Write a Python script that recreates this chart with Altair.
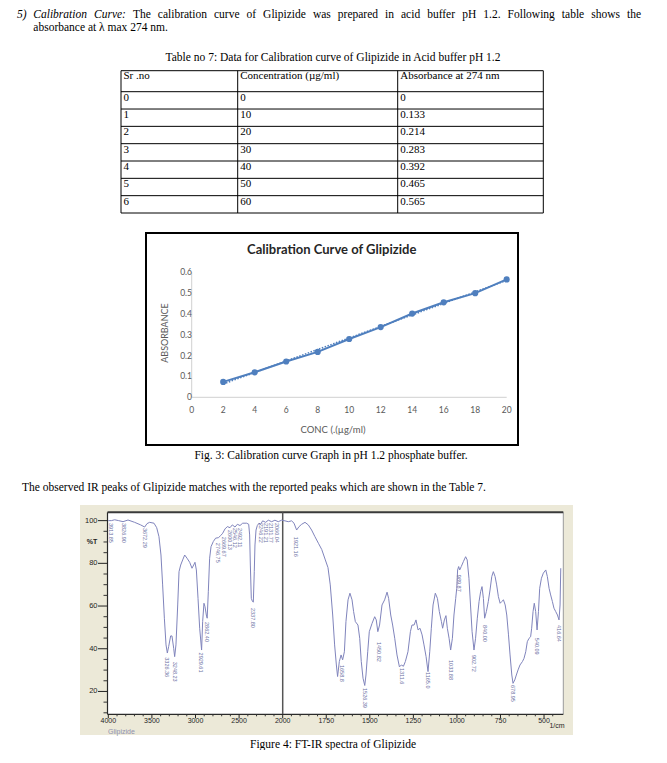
import altair as alt
import pandas as pd

# ======================= DATA =======================
# Fig. 3 : calibration curve
conc = [2, 4, 6, 8, 10, 12, 14, 16, 18, 20]
absorbance = [0.074, 0.120, 0.172, 0.218, 0.280, 0.337, 0.402, 0.456, 0.500, 0.566]
cal_x_ticks = [0, 2, 4, 6, 8, 10, 12, 14, 16, 18, 20]
cal_y_ticks = [0.0, 0.1, 0.2, 0.3, 0.4, 0.5, 0.6]
cal_y_labels = ["0", "0.1", "0.2", "0.3", "0.4", "0.5", "0.6"]

# Table no 7
table_header = ["Sr .no", "Concentration  (µg/ml)", "Absorbance at 274 nm"]
sr_no = ["0", "1", "2", "3", "4", "5", "6"]
table_conc = ["0", "10", "20", "30", "40", "50", "60"]
table_abs = ["0", "0.133", "0.214", "0.283", "0.392", "0.465", "0.565"]

# Fig. 4 : FT-IR spectrum (wavenumber 1/cm, %T)
ir_wavenumber = [4000, 3965, 3927, 3881, 3831, 3774, 3698, 3629, 3583, 3556,
                 3526, 3476, 3445, 3419, 3396, 3377, 3357, 3338, 3323, 3308,
                 3285, 3270, 3250, 3239, 3224, 3204, 3189, 3170, 3147, 3124,
                 3097, 3067, 3040, 3021, 3006, 2990, 2971, 2952, 2930, 2918,
                 2903, 2891, 2876, 2866, 2853, 2838, 2822, 2796, 2769, 2738,
                 2711, 2688, 2662, 2635, 2604, 2578, 2547, 2520, 2490, 2459,
                 2413, 2390, 2379, 2371, 2360, 2348, 2337, 2326, 2318, 2306,
                 2291, 2272, 2253, 2230, 2195, 2165, 2127, 2089, 2051, 2013,
                 1987, 1968, 1949, 1935, 1920, 1906, 1891, 1872, 1853, 1834,
                 1815, 1795, 1776, 1757, 1740, 1727, 1713, 1702, 1692, 1685,
                 1675, 1665, 1656, 1646, 1637, 1625, 1614, 1602, 1593, 1583,
                 1568, 1558, 1549, 1539, 1529, 1522, 1512, 1503, 1487, 1472,
                 1463, 1454, 1444, 1430, 1415, 1401, 1392, 1380, 1369, 1357,
                 1344, 1330, 1319, 1307, 1296, 1281, 1267, 1258, 1246, 1235,
                 1223, 1212, 1200, 1189, 1177, 1166, 1156, 1147, 1137, 1124,
                 1112, 1101, 1089, 1082, 1072, 1063, 1055, 1045, 1036, 1026,
                 1017, 1007, 1001, 996, 990, 984, 975, 963, 950, 941,
                 931, 922, 913, 902, 893, 883, 873, 864, 856, 848,
                 841, 831, 820, 810, 800, 791, 781, 772, 762, 752,
                 743, 733, 723, 714, 704, 695, 685, 678, 668, 659,
                 649, 638, 624, 615, 605, 596, 586, 577, 571, 563,
                 556, 548, 540, 532, 525, 515, 504, 490, 481, 471,
                 462, 452, 443, 433, 423, 414, 408, 404]
ir_transmittance = [100.0, 100.0, 100.4, 100.0, 99.5, 100.3, 99.2, 98.0, 97.0, 98.6,
                    99.2, 98.8, 96.7, 92.5, 83.9, 69.9, 54.3, 41.8, 38.0, 41.0,
                    46.0, 46.0, 40.2, 36.3, 41.8, 60.5, 76.1, 79.2, 81.6, 83.9,
                    82.4, 80.5, 77.7, 79.2, 80.5, 76.9, 63.6, 49.6, 39.4, 52.7,
                    61.3, 59.7, 55.8, 54.3, 66.7, 82.4, 87.8, 90.2, 91.8, 92.0,
                    93.0, 94.1, 96.1, 97.2, 96.7, 98.0, 97.0, 98.3, 97.7, 98.8,
                    98.8, 98.3, 93.3, 79.2, 63.6, 62.3, 61.8, 76.1, 88.6, 95.6,
                    97.7, 98.8, 98.3, 99.9, 99.2, 100.2, 99.5, 100.2, 99.5, 100.2,
                    99.9, 99.5, 99.9, 98.8, 95.6, 97.2, 98.3, 99.2, 98.0, 95.6,
                    92.5, 89.4, 86.5, 82.0, 78.0, 69.9, 55.8, 41.8, 32.4, 27.0,
                    34.0, 37.1, 34.8, 38.6, 52.7, 62.9, 66.0, 62.9, 57.4, 52.7,
                    51.1, 44.9, 34.0, 26.2, 22.8, 27.7, 38.6, 48.0, 51.9, 55.0,
                    53.5, 48.0, 51.1, 60.5, 62.9, 66.5, 63.6, 55.8, 51.1, 44.9,
                    37.1, 31.5, 32.4, 31.8, 34.0, 38.6, 48.0, 51.1, 51.1, 53.5,
                    48.8, 49.6, 46.5, 41.8, 36.3, 29.3, 38.6, 49.6, 60.5, 66.0,
                    63.6, 57.4, 52.7, 49.6, 53.5, 55.5, 49.6, 44.9, 39.4, 44.9,
                    55.8, 63.6, 68.3, 76.9, 78.5, 76.9, 78.5, 80.8, 83.1, 81.6,
                    73.0, 60.5, 48.0, 39.4, 44.9, 54.3, 62.1, 66.7, 69.1, 63.6,
                    54.3, 57.4, 62.1, 67.5, 73.8, 76.1, 73.8, 69.9, 64.4, 61.3,
                    62.1, 62.9, 60.5, 55.8, 46.5, 37.1, 27.7, 23.8, 25.4, 27.7,
                    30.1, 32.4, 34.0, 35.5, 38.6, 43.3, 44.9, 45.6, 49.6, 57.4,
                    61.3, 57.4, 48.8, 57.4, 68.3, 73.0, 75.4, 76.9, 73.8, 68.3,
                    65.2, 62.1, 59.0, 57.4, 55.8, 53.5, 60.5, 77.7]
peak_wavenumber = [3968, 3822, 3575, 3322, 3240, 2932, 2864, 2747, 2670, 2600,
                   2546, 2492, 2338, 2246, 2191, 2132, 2062, 1921, 1660, 1527,
                   1450, 1313, 1165, 1035, 988, 902, 840, 679, 540, 416]
peak_text = ["3913.85", "3826.90", "3672.29", "3326.36", "3248.23", "2929.61", "2862.40",
             "2746.75", "2669.67", "2600.13", "2546.12", "2492.11", "2337.80", "2246.22",
             "2191.21", "2131.77", "2060.04", "1921.16", "1658.8", "1526.39", "1450.82",
             "1311.6", "1165.0", "1033.88", "989.87", "902.72", "840.00", "678.95",
             "540.09", "416.64"]
peak_label_top = [98.9, 98.9, 96.6, 36.0, 33.9, 38.2, 52.5, 89.6, 92.4, 95.6,
                  96.6, 96.6, 59.1, 98.9, 98.9, 98.9, 98.9, 92.4, 32.4, 21.6,
                  43.2, 31.0, 29.1, 34.7, 74.6, 37.1, 51.1, 23.0, 45.1, 51.1]
ir_x_major = [4000, 3500, 3000, 2500, 2000, 1750, 1500, 1250, 1000, 750, 500]
ir_y_major = [20, 40, 60, 80, 100]

# ======================= LAYOUT =======================
P = 8.0  # page margin: reference pixel -> chart pixel
SERIF = "Liberation Serif"
SANS = "Liberation Sans"
CAL_FONT = "Lato"
BODY = 11.5

def V(v):
    return round(v - P, 2)

def page_text(rows, **mk):
    df = pd.DataFrame(rows, columns=["x", "y", "t"])
    df["x"] = df["x"] - P
    df["y"] = df["y"] - P
    return alt.Chart(df).mark_text(**mk).encode(
        x=alt.X("x:Q", scale=None, axis=None),
        y=alt.Y("y:Q", scale=None, axis=None),
        text=alt.Text("t:N"))

def page_seg(rows, kind="rule", **mk):
    df = pd.DataFrame(rows, columns=["x", "y", "x2", "y2"]) - P
    ch = alt.Chart(df)
    ch = ch.mark_rule(**mk) if kind == "rule" else ch.mark_rect(**mk)
    return ch.encode(
        x=alt.X("x:Q", scale=None, axis=None), y=alt.Y("y:Q", scale=None, axis=None),
        x2="x2", y2="y2")

# Times-compatible advance widths (per 1000 em) for justification
W_REG = dict(zip("abcdefghijklmnopqrstuvwxyz",
                 [444, 500, 444, 500, 444, 333, 500, 500, 278, 278, 500, 278, 778,
                  500, 500, 500, 500, 333, 389, 278, 500, 500, 722, 500, 500, 444]))
W_REG.update({"F": 556, "G": 722, "H": 722, "T": 611, "C": 667, ".": 250, ":": 278,
              "1": 500, "2": 500, " ": 250})
W_IT = dict(W_REG)
W_IT.update({"a": 500, "b": 500, "r": 389, "v": 444, ":": 333, "C": 667})

def tw(s, size, italic=False):
    tab = W_IT if italic else W_REG
    return sum(tab.get(c, 500) for c in s) * size / 1000.0

layers = []

# ---------- paragraph 1 (justified first line) ----------
line1 = [("Calibration", True), ("Curve:", True), ("The", False), ("calibration", False),
         ("curve", False), ("of", False), ("Glipizide", False), ("was", False),
         ("prepared", False), ("in", False), ("acid", False), ("buffer", False),
         ("pH", False), ("1.2.", False), ("Following", False), ("table", False),
         ("shows", False), ("the", False)]
x_start, x_end, base1, base2 = 33.3, 641.0, 18.3, 30.9
widths = [tw(w, BODY, it) for w, it in line1]
gap = (x_end - x_start - sum(widths)) / (len(line1) - 1)
xs, cur = [], x_start
for wdt in widths:
    xs.append(cur)
    cur += wdt + gap
it_rows = [(17.0, base1, "5)")] + [(xs[i], base1, w) for i, (w, it) in enumerate(line1) if it]
rg_rows = [(xs[i], base1, w) for i, (w, it) in enumerate(line1) if not it]
txt_common = dict(font=SERIF, fontSize=BODY, color="#000000", baseline="alphabetic")
layers.append(page_text(it_rows, align="left", fontStyle="italic", **txt_common))
layers.append(page_text(rg_rows + [(33.3, base2, "absorbance at λ max 274 nm.")],
                        align="left", **txt_common))

# ---------- table ----------
layers.append(page_text([(333.0, 61.0, "Table no 7: Data for Calibration curve of Glipizide in Acid buffer pH 1.2")],
                        align="center", **txt_common))
col_x = [121.0, 237.7, 397.7, 543.3]
t_top, t_head, t_bot = 70.7, 91.7, 213.0
row_h = (t_bot - t_head) / 7
h_lines = [t_top, t_head] + [t_head + row_h * (i + 1) for i in range(7)]
layers.append(page_seg([(col_x[0], yy, col_x[-1], yy) for yy in h_lines] +
                       [(cx, t_top, cx, t_bot) for cx in col_x],
                       color="#000000", strokeWidth=1))
cell_rows = [(col_x[j] + 2.5, t_top + 8.0, table_header[j]) for j in range(3)]
for i in range(7):
    by = t_head + row_h * i + 9.0
    for j, col in enumerate([sr_no, table_conc, table_abs]):
        cell_rows.append((col_x[j] + 2.5, by, col[i]))
layers.append(page_text(cell_rows, align="left", font=SERIF, fontSize=11, color="#000000",
                        baseline="alphabetic"))

# ---------- Fig. 3 calibration chart ----------
BLUE = "#4f7fbe"
CAL_X = alt.Scale(domain=[0, 20], range=[V(191.7), V(506.7)], nice=False, zero=False)
CAL_Y = alt.Scale(domain=[0, 0.6], range=[V(397.3), V(272.3)], nice=False, zero=False)
cal_df = pd.DataFrame({"conc": conc, "abs": absorbance})

layers.append(page_seg([(146.0, 233.0, 518.0, 445.0)], kind="rect", fill="#ffffff",
                       stroke="#000000", strokeWidth=2))
layers.append(page_text([(331.7, 250.0, "Calibration Curve of Glipizide")], align="center",
                        baseline="middle", font=CAL_FONT, fontSize=13, fontWeight="bold",
                        color="#262626"))
cal_axes = pd.DataFrame({"x0": [0, 0], "x1": [20, 0], "y0": [0, 0], "y1": [0, 0.6]})
cal_axis_layer = alt.Chart(cal_axes).mark_rule(color="#d0d0d0", strokeWidth=1).encode(
    x=alt.X("x0:Q", scale=CAL_X, axis=None), x2="x1",
    y=alt.Y("y0:Q", scale=CAL_Y, axis=None), y2="y1")
cal_xlab = alt.Chart(pd.DataFrame({"v": cal_x_ticks, "l": [str(v) for v in cal_x_ticks]})).mark_text(
    font=CAL_FONT, fontSize=8.5, color="#595959", baseline="middle", align="center").encode(
    x=alt.X("v:Q", scale=CAL_X, axis=None), y=alt.value(V(409.7)), text="l:N")
cal_ylab = alt.Chart(pd.DataFrame({"v": cal_y_ticks, "l": cal_y_labels})).mark_text(
    font=CAL_FONT, fontSize=8.5, color="#595959", baseline="middle", align="right").encode(
    x=alt.value(V(192.0)), y=alt.Y("v:Q", scale=CAL_Y, axis=None), text="l:N")
cal_trend = alt.Chart(cal_df).transform_regression("conc", "abs").mark_line(
    color=BLUE, strokeWidth=1.5, strokeDash=[1.5, 1.5]).encode(
    x=alt.X("conc:Q", scale=CAL_X, axis=None), y=alt.Y("abs:Q", scale=CAL_Y, axis=None))
cal_line = alt.Chart(cal_df).mark_line(color=BLUE, strokeWidth=2).encode(
    x=alt.X("conc:Q", scale=CAL_X, axis=None), y=alt.Y("abs:Q", scale=CAL_Y, axis=None))
cal_pts = alt.Chart(cal_df).mark_circle(color=BLUE, size=38, opacity=1).encode(
    x=alt.X("conc:Q", scale=CAL_X, axis=None), y=alt.Y("abs:Q", scale=CAL_Y, axis=None))
layers.append(alt.layer(cal_axis_layer, cal_xlab, cal_ylab, cal_trend, cal_line, cal_pts))
layers.append(page_text([(333.0, 430.0, "CONC (.(µg/ml)")], align="center", baseline="middle",
                        font=CAL_FONT, fontSize=9.5, color="#595959"))
layers.append(page_text([(165.0, 333.0, "ABSORBANCE")], align="center", baseline="middle",
                        angle=270, font=CAL_FONT, fontSize=9, color="#595959"))

# ---------- captions / paragraph 2 ----------
layers.append(page_text([(331.0, 459.0, "Fig. 3: Calibration curve Graph in pH 1.2 phosphate buffer.")],
                        align="center", **txt_common))
layers.append(page_text([(22.0, 491.0, "The observed IR peaks of Glipizide matches with the reported peaks which are shown in the Table 7.")],
                        align="left", **txt_common))
layers.append(page_text([(333.0, 748.0, "Figure 4: FT-IR spectra of Glipizide")],
                        align="center", **txt_common))

# ---------- Fig. 4 FT-IR ----------
IR_X = alt.Scale(domain=[4000, 2000, 390], range=[V(108.3), V(282.7), V(563.2)],
                 nice=False, zero=False)
IR_Y = alt.Scale(domain=[9.3, 103.9], range=[V(714.3), V(512.3)], nice=False, zero=False)
L, R, T, B = 107.5, 563.3, 512.3, 714.3
layers.append(page_seg([(80.0, 505.0, 573.0, 735.0)], kind="rect", fill="#ece9d8"))
layers.append(page_seg([(L, T, R, B)], kind="rect", fill="#ffffff"))
layers.append(page_seg([(R, T, R, B)], color="#9a9a9a", strokeWidth=1))
layers.append(page_seg([(L, T, R, T)], color="#3a3a3a", strokeWidth=2))
layers.append(page_seg([(L, T, L, B), (L, B, R, B)], color="#2a2a2a", strokeWidth=1.2))

ir_df = pd.DataFrame({"wn": ir_wavenumber, "t": ir_transmittance})
minor_x = [w for w in range(3900, 2000, -100) if w % 500] + [w for w in range(1950, 400, -50) if w % 250]
minor_y = [v for v in range(10, 105, 5) if v % 20]
ir_vline = alt.Chart(pd.DataFrame({"wn": [2000]})).mark_rule(color="#555555", strokeWidth=1.5).encode(
    x=alt.X("wn:Q", scale=IR_X, axis=None), y=alt.value(V(T)), y2=alt.value(V(B)))
ir_xmaj = alt.Chart(pd.DataFrame({"wn": ir_x_major})).mark_rule(color="#222222", strokeWidth=1).encode(
    x=alt.X("wn:Q", scale=IR_X, axis=None), y=alt.value(V(B)), y2=alt.value(V(B + 4)))
ir_xmin = alt.Chart(pd.DataFrame({"wn": minor_x})).mark_rule(color="#333333", strokeWidth=1).encode(
    x=alt.X("wn:Q", scale=IR_X, axis=None), y=alt.value(V(B)), y2=alt.value(V(B + 2)))
ir_xlab = alt.Chart(pd.DataFrame({"wn": ir_x_major, "l": [str(v) for v in ir_x_major]})).mark_text(
    font=SANS, fontSize=7, color="#1e1e1e", align="center", baseline="middle").encode(
    x=alt.X("wn:Q", scale=IR_X, axis=None), y=alt.value(V(720.5)), text="l:N")
ir_ymaj = alt.Chart(pd.DataFrame({"t": ir_y_major})).mark_rule(color="#222222", strokeWidth=1).encode(
    x=alt.value(V(98.0)), x2=alt.value(V(L)), y=alt.Y("t:Q", scale=IR_Y, axis=None))
ir_ymin = alt.Chart(pd.DataFrame({"t": minor_y})).mark_rule(color="#333333", strokeWidth=1).encode(
    x=alt.value(V(103.5)), x2=alt.value(V(L)), y=alt.Y("t:Q", scale=IR_Y, axis=None))
ir_ylab = alt.Chart(pd.DataFrame({"t": ir_y_major, "l": [str(v) for v in ir_y_major]})).mark_text(
    font=SANS, fontSize=7.5, color="#1e1e1e", align="right", baseline="middle").encode(
    x=alt.value(V(97.5)), y=alt.Y("t:Q", scale=IR_Y, axis=None), text="l:N")
ir_line = alt.Chart(ir_df).mark_line(color="#8084bc", strokeWidth=1).encode(
    x=alt.X("wn:Q", scale=IR_X, axis=None), y=alt.Y("t:Q", scale=IR_Y, axis=None))
ir_peaks = alt.Chart(pd.DataFrame({"wn": peak_wavenumber, "t": peak_label_top, "l": peak_text})).mark_text(
    font=SANS, fontSize=5.5, color="#6b6fa3", angle=90, align="left", baseline="middle").encode(
    x=alt.X("wn:Q", scale=IR_X, axis=None), y=alt.Y("t:Q", scale=IR_Y, axis=None), text="l:N")
layers.append(alt.layer(ir_vline, ir_xmaj, ir_xmin, ir_xlab, ir_ymaj, ir_ymin, ir_ylab,
                        ir_line, ir_peaks))
layers.append(page_text([(92.0, 541.5, "%T")], align="center", baseline="middle", font=SANS,
                        fontSize=7, fontWeight="bold", color="#1e1e1e"))
layers.append(page_text([(108.0, 732.0, "Glipizide")], align="left", baseline="middle", font=SANS,
                        fontSize=7, color="#8e90ae"))
layers.append(page_text([(557.0, 726.0, "1/cm")], align="center", baseline="middle", font=SANS,
                        fontSize=7, color="#1e1e1e"))

chart = alt.layer(*layers).resolve_scale(x="independent", y="independent").properties(
    width=645, height=742, padding=0,
    autosize=alt.AutoSizeParams(type="none"),
    background="#ffffff").configure_view(strokeWidth=0)

chart.save("out.html", embed_options={"renderer": "svg", "actions": False})
